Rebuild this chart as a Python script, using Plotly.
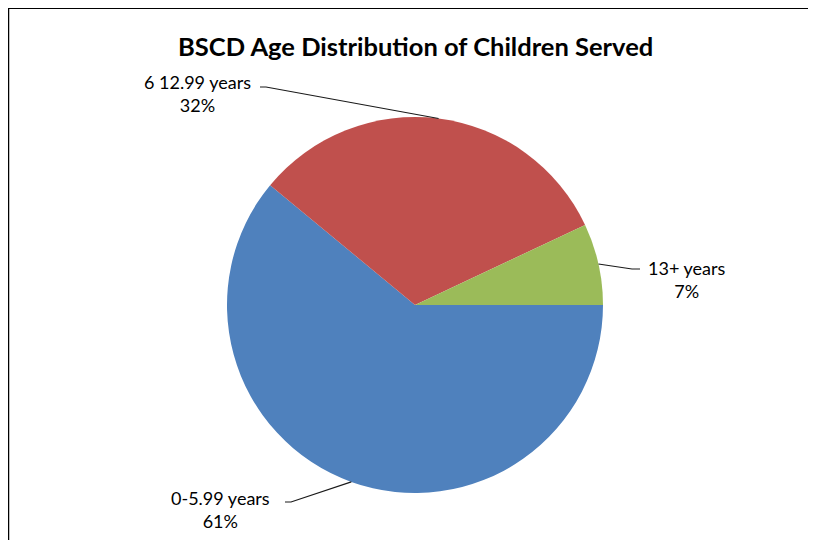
import math
import plotly.graph_objects as go

# ---- data ----
labels = ["0-5.99 years", "6 12.99 years", "13+ years"]
values = [61, 32, 7]
colors = ["#4F81BD", "#C0504D", "#9BBB59"]
title = "BSCD Age Distribution of Children Served"

OFF = 8  # page body margin offset
W, H = 816 - 2 * OFF, 548 - 2 * OFF
cx, cy, r = 415, 305, 188  # pie centre / radius in screen pixels

def px(x):
    return (x - OFF) / W

def py(y):
    return 1 - (y - OFF) / H

fig = go.Figure(go.Pie(
    labels=labels, values=values, sort=False, direction="clockwise",
    rotation=90, marker=dict(colors=colors, line=dict(width=0)),
    textinfo="none", hoverinfo="label+percent", showlegend=False,
    domain=dict(x=[px(cx - r), px(cx + r)], y=[py(cy + r), py(cy - r)]),
))

# label blocks (centre pixel positions) and the leader-line end near text
label_pos = [(220, 509), (197, 93), (686, 279)]
leader_end = [[(291, 502), (285, 502)], [(266, 87), (260, 87)], [(632, 269), (640, 269)]]

total = sum(values)
cum = 0
shapes = []
annotations = []
for i, (lab, v) in enumerate(zip(labels, values)):
    mid = (cum + v / 2) / total * 360.0  # clockwise from east
    cum += v
    a = math.radians(mid)
    sx, sy = cx + r * math.cos(a), cy + r * math.sin(a)
    pts = [(sx, sy)] + leader_end[i]
    path = "M " + " L ".join(f"{px(x)},{py(y)}" for x, y in pts)
    shapes.append(dict(type="path", xref="paper", yref="paper", path=path,
                       line=dict(color="#1a1a1a", width=1.2)))
    pct = round(v / total * 100)
    lx, ly = label_pos[i]
    annotations.append(dict(
        x=px(lx), y=py(ly), xref="paper", yref="paper", showarrow=False,
        text=f"{lab}<br>{pct}%", align="center", xanchor="center", yanchor="middle",
        font=dict(family="Lato, Carlito, sans-serif", size=18, color="#000000"),
    ))

annotations.append(dict(
    x=px(415), y=py(46), xref="paper", yref="paper", showarrow=False,
    text=f"<b>{title}</b>", xanchor="center", yanchor="middle",
    font=dict(family="Lato, Carlito, sans-serif", size=25.5, color="#000000"),
))

# frame lines
shapes.append(dict(type="line", xref="paper", yref="paper", x0=0, x1=1.0,
                   y0=py(8), y1=py(8), line=dict(color="black", width=2)))
shapes.append(dict(type="line", xref="paper", yref="paper", x0=px(8.5), x1=px(8.5),
                   y0=py(7), y1=0, line=dict(color="black", width=1.5)))

fig.update_layout(
    width=W, height=H, margin=dict(l=0, r=0, t=0, b=0),
    paper_bgcolor="white", plot_bgcolor="white",
    shapes=shapes, annotations=annotations,
)

fig.write_html("out.html")
